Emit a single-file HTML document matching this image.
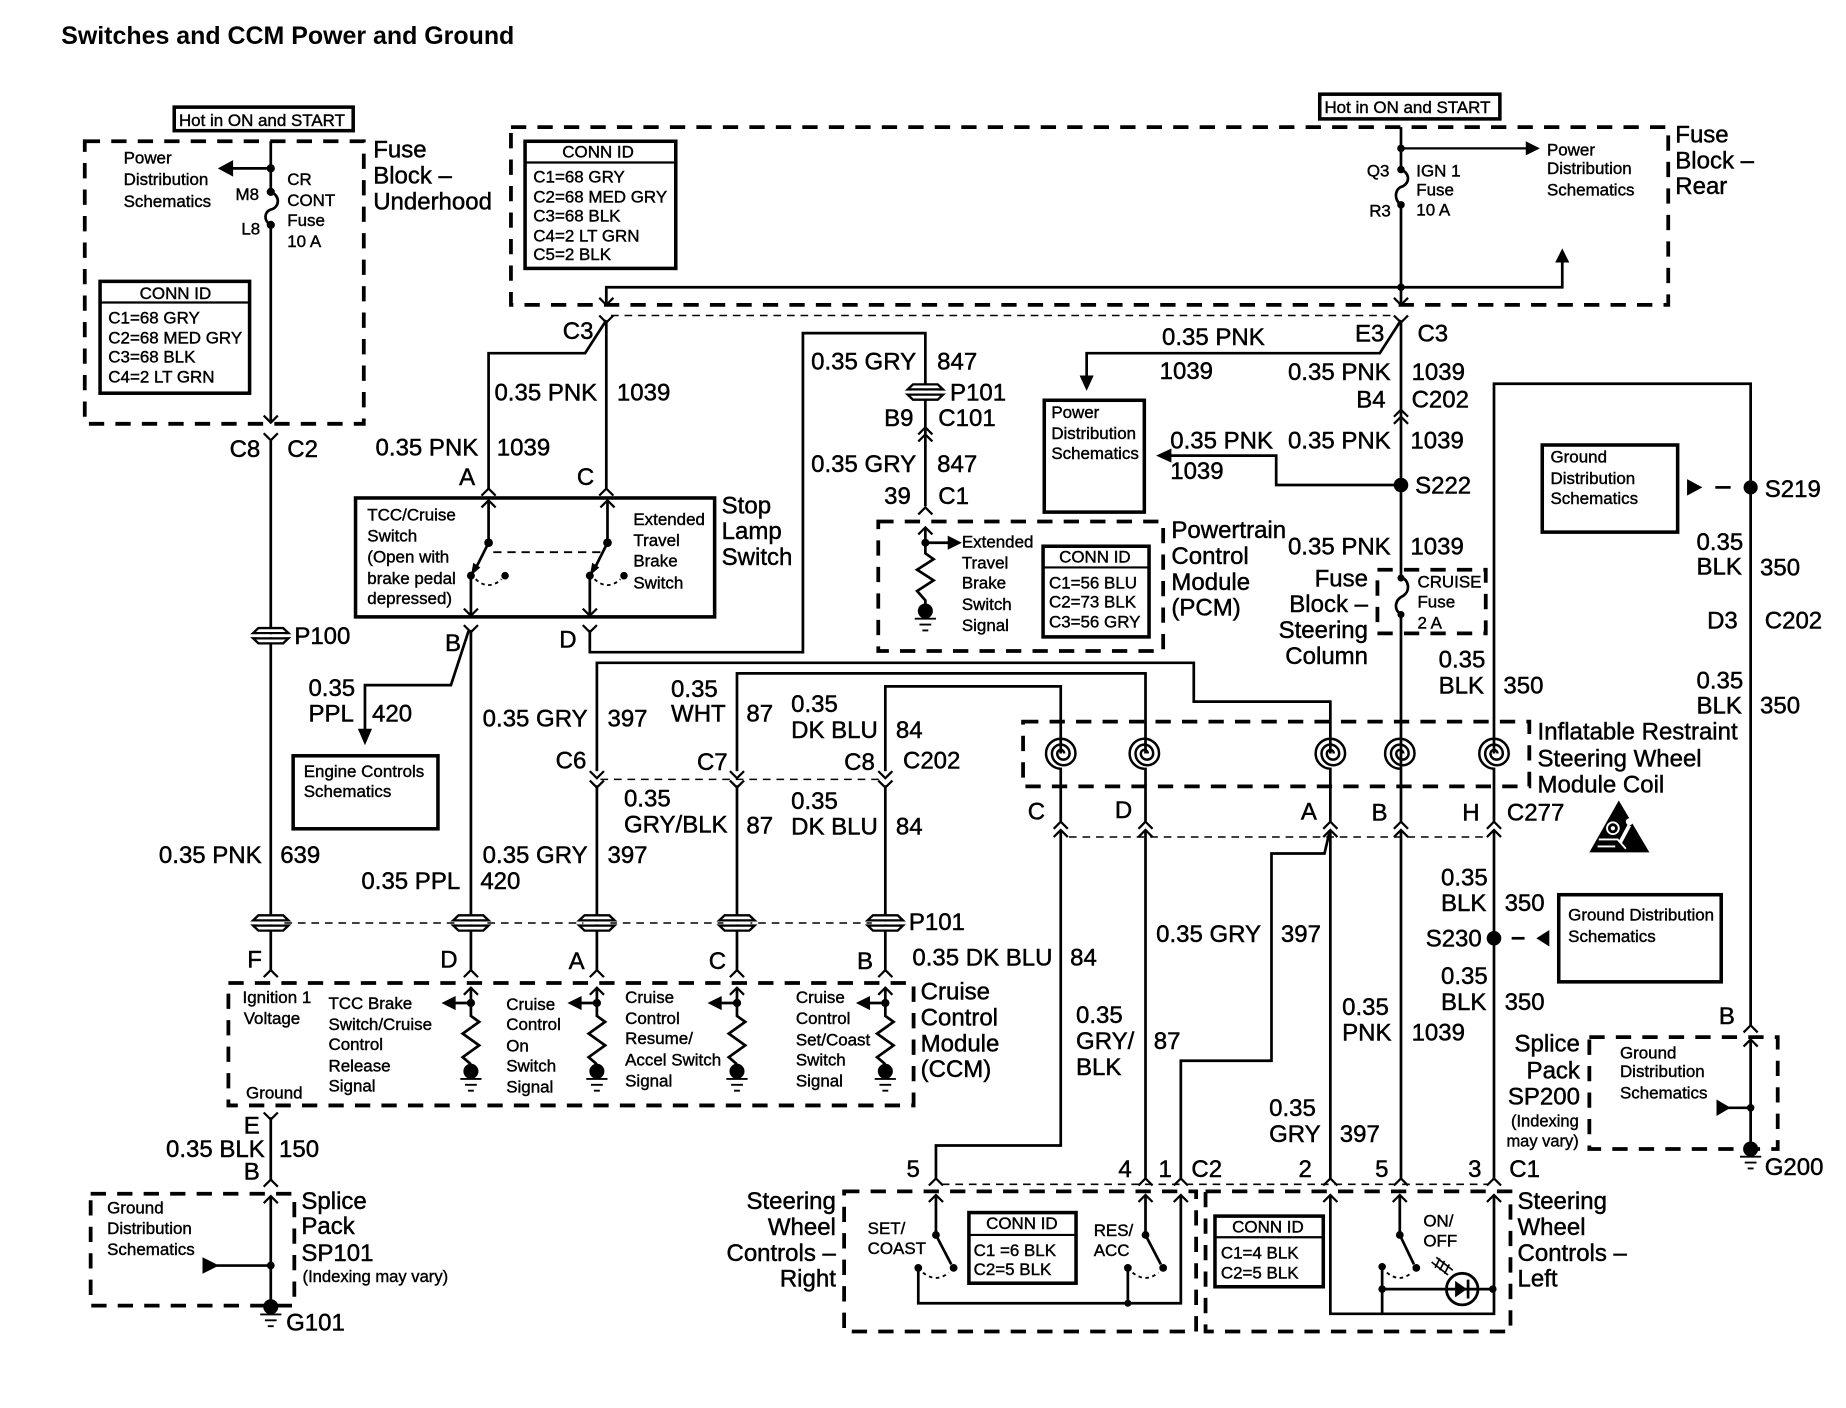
<!DOCTYPE html>
<html><head><meta charset="utf-8"><title>Switches and CCM Power and Ground</title>
<style>
html,body{margin:0;padding:0;background:#fff}
svg{display:block}
text{font-family:"Liberation Sans",sans-serif;font-size:20.4px;fill:#000;stroke:#000;stroke-width:.4}
.s text,text.s{font-size:14.4px;stroke-width:.35}
.e{text-anchor:end}.m{text-anchor:middle}
.w{fill:none;stroke:#000;stroke-width:2.3}
.d{fill:none;stroke:#000;stroke-width:3.2;stroke-dasharray:13 9.5}
.t{fill:none;stroke:#000;stroke-width:1.3;stroke-dasharray:6.5 5}
.b{fill:none;stroke:#000;stroke-width:3}
.a{fill:none;stroke:#000;stroke-width:1.9}
.o{fill:none;stroke:#000;stroke-width:1.6;stroke-dasharray:3 3}
</style></head><body>
<svg xmlns="http://www.w3.org/2000/svg" width="1846" height="1408" viewBox="0 0 1568 1196" preserveAspectRatio="none">
<defs>
<path id="u" class="a" d="M-6 6L0 0L6 6"/>
<path id="v" class="a" d="M-6 -6L0 0L6 -6"/>
<g id="p"><path d="M-10.5 -6.5H10.5L15 -2.2H-15Z M-15 2.2H15L10.5 6.5H-10.5Z" fill="#fff" stroke="#000" stroke-width="2"/><rect x="-11.5" y="-1.2" width="23" height="2.4" fill="#fff"/></g>
<g id="g"><circle cx="0" cy="0" r="6.4"/><path d="M-9 6.5H9M-5 11.5H5M-2.5 16.5H2.5" stroke="#000" stroke-width="1.6"/></g>
<g id="c"><path d="M2 0A3 3 0 0 0 -4 0A5 5 0 0 0 6.5 0A7.5 7.5 0 0 0 -8.5 0A10 10 0 0 0 11.5 0A12.5 12.5 0 0 0 -13.5 0A13 13 0 0 0 -1 13" fill="none" stroke="#000" stroke-width="2.1"/></g>
<g id="r">
<use href="#u" y="4"/>
<path class="w" d="M0 4V28L7 33L-7 43L7 53L-7 63L0 69"/>
<circle cx="0" cy="17" r="3.5"/>
<path class="w" d="M0 17H-14"/><path d="M-25 17L-13 11V23Z"/>
<use href="#g" y="75"/>
</g>
<g id="sw">
<circle cx="0" cy="0" r="3.7"/><circle cx="-15" cy="28" r="3.4"/>
<path class="w" d="M0 0L-12 24"/><path d="M-15 28L-13 17L-7 21Z"/>
</g>
</defs>

<text x="52" y="37.5" style="font-size:21.2px;font-weight:bold;stroke-width:0">Switches and CCM Power and Ground</text>

<!-- Underhood fuse block -->
<rect class="b" x="148" y="91" width="152" height="20"/>
<text class="s" x="152" y="107">Hot in ON and START</text>
<rect class="d" x="72" y="120" width="237" height="240"/>
<path class="w" d="M230 120V163C238 166 238 176 230 178C224 180 224 188 230 191V358"/>
<circle cx="230" cy="143" r="3.5"/><circle cx="230" cy="163" r="3.5"/><circle cx="230" cy="191" r="3.5"/>
<path class="w" d="M230 143H196"/><path d="M185 143L198 136V150Z"/>
<use href="#v" x="230" y="359"/>
<g class="s">
<text x="105" y="139">Power</text><text x="105" y="157">Distribution</text><text x="105" y="176">Schematics</text>
<text x="200" y="170">M8</text><text x="205" y="199">L8</text>
<text x="244" y="157">CR</text><text x="244" y="175">CONT</text><text x="244" y="192">Fuse</text><text x="244" y="210">10 A</text>
<text x="149" y="254" class="m">CONN ID</text>
<text x="92" y="275">C1=68 GRY</text><text x="92" y="292">C2=68 MED GRY</text><text x="92" y="308">C3=68 BLK</text><text x="92" y="325">C4=2 LT GRN</text>
</g>
<rect class="b" x="85" y="239" width="127" height="95"/><path class="a" d="M85 257H212"/>
<text x="317" y="134">Fuse</text><text x="317" y="156">Block –</text><text x="317" y="178">Underhood</text>
<use href="#v" x="230" y="374"/>
<path class="w" d="M230 374V824"/>
<text x="195" y="388">C8</text><text x="244" y="388">C2</text>
<use href="#p" x="230" y="540"/><text x="250" y="547">P100</text>
<text x="135" y="733">0.35 PNK</text><text x="238" y="733">639</text>

<!-- Rear fuse block -->
<rect class="d" x="434" y="108" width="983" height="151"/>
<rect class="b" x="1121" y="80" width="153" height="21"/>
<text class="s" x="1125" y="96">Hot in ON and START</text>
<rect class="b" x="446" y="120" width="128" height="108"/><path class="a" d="M446 138H574"/>
<g class="s">
<text x="508" y="134" class="m">CONN ID</text>
<text x="453" y="155">C1=68 GRY</text><text x="453" y="172">C2=68 MED GRY</text><text x="453" y="188">C3=68 BLK</text><text x="453" y="205">C4=2 LT GRN</text><text x="453" y="221">C5=2 BLK</text>
<text x="1161" y="150">Q3</text><text x="1163" y="184">R3</text>
<text x="1203" y="150">IGN 1</text><text x="1203" y="166">Fuse</text><text x="1203" y="183">10 A</text>
<text x="1314" y="132">Power</text><text x="1314" y="148">Distribution</text><text x="1314" y="166">Schematics</text>
</g>
<text x="1423" y="121">Fuse</text><text x="1423" y="143">Block –</text><text x="1423" y="165">Rear</text>
<path class="w" d="M1190 108V144C1197 147 1198 154 1192 158C1184 160 1184 170 1190 174V259"/>
<circle cx="1190" cy="126" r="3.2"/><circle cx="1190" cy="144" r="3.2"/><circle cx="1190" cy="174" r="3.2"/><circle cx="1190" cy="244" r="3.2"/>
<path class="a" d="M1190 126H1298"/><path d="M1308 126L1296 120V132Z"/>
<path class="w" d="M515 258V244H1327V222"/><path d="M1327 211L1321 223H1333Z"/>
<use href="#v" x="515" y="259"/><use href="#v" x="1190" y="259"/>
<path class="t" d="M519 268H1186"/>

<!-- C3 left -->
<use href="#v" x="515" y="274"/>
<path class="w" d="M515 272V416"/>
<path class="w" d="M515 272L497 300H415V416"/>
<use href="#u" x="415" y="415"/><use href="#u" x="515" y="415"/>
<text x="478" y="288">C3</text>
<text x="420" y="340">0.35 PNK</text><text x="524" y="340">1039</text>
<text x="319" y="387">0.35 PNK</text><text x="422" y="387">1039</text>
<text x="390" y="412">A</text><text x="490" y="412">C</text>

<!-- Stop lamp switch -->
<rect class="b" x="302" y="423" width="305" height="101"/>
<text x="613" y="436">Stop</text><text x="613" y="458">Lamp</text><text x="613" y="480">Switch</text>
<g class="s">
<text x="312" y="442">TCC/Cruise</text><text x="312" y="460">Switch</text><text x="312" y="478">(Open with</text><text x="312" y="496">brake pedal</text><text x="312" y="513">depressed)</text>
<text x="538" y="446">Extended</text><text x="538" y="464">Travel</text><text x="538" y="481">Brake</text><text x="538" y="500">Switch</text>
</g>
<path class="w" d="M415 425V461M516 425V461M400 489V522M501 489V522"/>
<use href="#u" x="415" y="425"/><use href="#u" x="516" y="425"/>
<use href="#v" x="400" y="523"/><use href="#v" x="501" y="523"/>
<use href="#sw" x="415" y="461"/><use href="#sw" x="516" y="461"/>
<circle cx="429" cy="489" r="3.2"/><circle cx="530" cy="489" r="3.2"/>
<path class="o" d="M404 492Q415 502 426 492M505 492Q516 502 527 492"/>
<path class="w" style="stroke-width:1.6;stroke-dasharray:7 5" d="M419 469H514"/>

<use href="#v" x="400" y="537"/><use href="#v" x="501" y="537"/>
<path class="w" d="M400 535V824"/>
<path class="w" d="M398 536L383 582H310V622"/><path d="M310 633L304 619H316Z"/>
<path class="w" d="M501 535V554H682V283H786V430"/>
<text x="378" y="553">B</text><text x="475" y="550">D</text>
<text x="262" y="591">0.35</text><text x="262" y="613">PPL</text><text x="316" y="613">420</text>
<rect class="b" x="249" y="642" width="123" height="62"/>
<g class="s"><text x="258" y="660">Engine Controls</text><text x="258" y="677">Schematics</text></g>
<text x="307" y="755">0.35 PPL</text><text x="408" y="755">420</text>

<!-- 847 -->
<use href="#p" x="786" y="333"/>
<use href="#u" x="786" y="363"/><use href="#u" x="786" y="369"/>
<use href="#u" x="786" y="431"/>
<text x="689" y="314">0.35 GRY</text><text x="796" y="314">847</text>
<text x="807" y="340">P101</text><text x="751" y="362">B9</text><text x="797" y="362">C101</text>
<text x="689" y="401">0.35 GRY</text><text x="796" y="401">847</text>
<text x="751" y="428">39</text><text x="797" y="428">C1</text>

<!-- PCM -->
<rect class="d" x="746" y="443" width="242" height="110"/>
<use href="#u" x="786" y="448"/>
<path class="w" d="M786 448V470L793 475L779 484L793 493L779 502L786 510V519"/>
<circle cx="786" cy="461" r="3.4"/><path class="w" d="M786 461H806"/><path d="M817 461L805 455V467Z"/>
<use href="#g" x="786" y="519"/>
<g class="s"><text x="817" y="465">Extended</text><text x="817" y="483">Travel</text><text x="817" y="500">Brake</text><text x="817" y="518">Switch</text><text x="817" y="536">Signal</text>
<text x="930" y="478" class="m">CONN ID</text><text x="891" y="500">C1=56 BLU</text><text x="891" y="516">C2=73 BLK</text><text x="891" y="533">C3=56 GRY</text></g>
<rect class="b" x="886" y="464" width="90" height="77"/><path class="a" d="M886 482H976"/>
<text x="995" y="457">Powertrain</text><text x="995" y="479">Control</text><text x="995" y="501">Module</text><text x="995" y="523">(PCM)</text>

<!-- power dist center -->
<rect class="b" x="887" y="340" width="85" height="95"/>
<g class="s"><text x="893" y="355">Power</text><text x="893" y="373">Distribution</text><text x="893" y="390">Schematics</text></g>
<use href="#v" x="1190" y="274"/>
<path class="w" d="M1190 272L1172 300H923V321"/><path d="M923 332L917 319H929Z"/>
<path class="w" d="M1190 272V490C1197 493 1198 502 1192 506C1184 510 1184 518 1190 522V698M1190 706V1002"/>
<use href="#u" x="1190" y="348"/><use href="#u" x="1190" y="354"/>
<path class="w" d="M993 387H1084V412H1190"/><path d="M982 387L995 381V393Z"/>
<circle cx="1190" cy="412" r="6.2"/>
<text x="987" y="293">0.35 PNK</text><text x="985" y="322">1039</text>
<text x="1151" y="290">E3</text><text x="1204" y="290">C3</text>
<text x="1094" y="323">0.35 PNK</text><text x="1199" y="323">1039</text>
<text x="1152" y="346">B4</text><text x="1199" y="346">C202</text>
<text x="994" y="381">0.35 PNK</text><text x="994" y="407">1039</text>
<text x="1094" y="381">0.35 PNK</text><text x="1198" y="381">1039</text>
<text x="1202" y="419">S222</text>
<text x="1094" y="471">0.35 PNK</text><text x="1198" y="471">1039</text>

<!-- Steering column fuse -->
<rect class="d" x="1170" y="484" width="92" height="54"/>
<circle cx="1190" cy="491" r="3"/><circle cx="1190" cy="522" r="3"/>
<g class="s"><text x="1204" y="499">CRUISE</text><text x="1204" y="516">Fuse</text><text x="1204" y="534">2 A</text></g>
<text class="e" x="1162" y="498">Fuse</text><text class="e" x="1162" y="520">Block –</text><text class="e" x="1162" y="542">Steering</text><text class="e" x="1162" y="564">Column</text>

<!-- Right wire -->
<path class="w" d="M1269 640V326H1487V872M1269 652V698"/>
<rect class="b" x="1310" y="378" width="115" height="74"/>
<g class="s"><text x="1317" y="393">Ground</text><text x="1317" y="411">Distribution</text><text x="1317" y="428">Schematics</text></g>
<path d="M1446 414L1433 407V421Z"/><path class="w" d="M1457 414H1470"/>
<circle cx="1487" cy="414" r="6"/>
<text x="1499" y="422">S219</text>
<text x="1441" y="467">0.35</text><text x="1441" y="488">BLK</text><text x="1495" y="489">350</text>
<text x="1450" y="534">D3</text><text x="1499" y="534">C202</text>
<text x="1441" y="585">0.35</text><text x="1441" y="606">BLK</text><text x="1495" y="606">350</text>
<text x="1222" y="567">0.35</text><text x="1222" y="589">BLK</text><text x="1277" y="589">350</text>

<!-- C202 lower bundle -->
<path class="w" d="M507 655V563H1014V596H1130V640M1130 652V698"/>
<path class="w" d="M626 655V572H973V640M973 652V698"/>
<path class="w" d="M752 655V583H901V640M901 652V698"/>
<use href="#v" x="507" y="661"/><use href="#v" x="626" y="661"/><use href="#v" x="752" y="661"/>
<use href="#v" x="507" y="669"/><use href="#v" x="626" y="669"/><use href="#v" x="752" y="669"/>
<path class="t" d="M510 662H750"/>
<path class="w" d="M507 667V824M626 667V824M752 667V824"/>
<text x="410" y="617">0.35 GRY</text><text x="516" y="617">397</text>
<text x="570" y="592">0.35</text><text x="570" y="613">WHT</text><text x="634" y="613">87</text>
<text x="672" y="605">0.35</text><text x="672" y="627">DK BLU</text><text x="761" y="627">84</text>
<text x="472" y="653">C6</text><text x="592" y="654">C7</text><text x="717" y="654">C8</text><text x="767" y="653">C202</text>
<text x="530" y="685">0.35</text><text x="530" y="707">GRY/BLK</text><text x="634" y="708">87</text>
<text x="672" y="687">0.35</text><text x="672" y="709">DK BLU</text><text x="761" y="709">84</text>
<text x="410" y="733">0.35 GRY</text><text x="516" y="733">397</text>

<!-- P101 row -->
<path class="t" d="M230 784H752"/>
<use href="#p" x="230" y="784"/><use href="#p" x="400" y="784"/><use href="#p" x="507" y="784"/><use href="#p" x="626" y="784"/><use href="#p" x="752" y="784"/>
<text x="772" y="790">P101</text>

<!-- Coil module -->
<rect class="d" x="869" y="613" width="430" height="55"/>
<use href="#c" x="902" y="640"/><use href="#c" x="973" y="640"/><use href="#c" x="1131" y="640"/><use href="#c" x="1190" y="640"/><use href="#c" x="1270" y="640"/>
<text x="1306" y="628">Inflatable Restraint</text><text x="1306" y="651">Steering Wheel</text><text x="1306" y="673">Module Coil</text>
<path d="M1375 680L1401 724H1350Z"/>
<circle cx="1370" cy="703.5" r="5" fill="none" stroke="#fff" stroke-width="1.6"/><circle cx="1370" cy="703.5" r="1.8" fill="#fff"/>
<circle cx="1384" cy="698" r="3" fill="#fff"/>
<path d="M1384 701L1376 716" stroke="#fff" stroke-width="3.2" fill="none"/>
<path d="M1358 713H1374L1381 721M1357 719H1372" stroke="#fff" stroke-width="1.6" fill="none"/>
<text x="873" y="696">C</text><text x="947" y="695">D</text><text x="1105" y="696">A</text><text x="1165" y="697">B</text><text x="1242" y="697">H</text><text x="1280" y="697">C277</text>
<use href="#u" x="901" y="698"/><use href="#u" x="901" y="705"/>
<use href="#u" x="973" y="698"/><use href="#u" x="973" y="705"/>
<use href="#u" x="1130" y="698"/><use href="#u" x="1130" y="705"/>
<use href="#u" x="1190" y="698"/><use href="#u" x="1190" y="705"/>
<use href="#u" x="1269" y="698"/><use href="#u" x="1269" y="705"/>
<path class="t" d="M908 711H1263"/>
<path class="w" d="M901 706V973H795V1002"/>
<path class="w" d="M973 706V1002"/>
<path class="w" d="M1130 706V1002"/>
<path class="w" d="M1269 706V1002"/>
<path class="w" d="M1129 708L1125 725H1080V901H1003V1002"/>
<text x="775" y="820">0.35 DK BLU</text><text x="909" y="820">84</text>
<text x="982" y="800">0.35 GRY</text><text x="1088" y="800">397</text>
<text x="914" y="869">0.35</text><text x="914" y="891">GRY/</text><text x="914" y="913">BLK</text><text x="980" y="891">87</text>
<text x="1140" y="862">0.35</text><text x="1140" y="884">PNK</text><text x="1199" y="884">1039</text>
<text x="1078" y="948">0.35</text><text x="1078" y="970">GRY</text><text x="1138" y="970">397</text>
<text x="1224" y="752">0.35</text><text x="1224" y="774">BLK</text><text x="1278" y="774">350</text>
<text x="1211" y="804">S230</text><circle cx="1269" cy="797" r="6.2"/>
<path class="w" d="M1284 797H1295"/><path d="M1305 797L1316 790V804Z"/>
<rect class="b" x="1324" y="760" width="138" height="74"/>
<g class="s"><text x="1332" y="782">Ground Distribution</text><text x="1332" y="800">Schematics</text></g>
<text x="1224" y="836">0.35</text><text x="1224" y="858">BLK</text><text x="1278" y="858">350</text>

<!-- CCM -->
<rect class="d" x="194" y="835" width="582" height="104"/>
<use href="#u" x="230" y="824"/><use href="#u" x="400" y="824"/><use href="#u" x="507" y="824"/><use href="#u" x="626" y="824"/><use href="#u" x="752" y="824"/>
<text x="210" y="822">F</text><text x="374" y="822">D</text><text x="483" y="823">A</text><text x="602" y="823">C</text><text x="728" y="823">B</text>
<use href="#r" x="400" y="835"/><use href="#r" x="507" y="835"/><use href="#r" x="626" y="835"/><use href="#r" x="752" y="835"/>
<g class="s">
<text x="206" y="852">Ignition 1</text><text x="207" y="870">Voltage</text><text x="209" y="933">Ground</text>
<text x="279" y="857">TCC Brake</text><text x="279" y="875">Switch/Cruise</text><text x="279" y="892">Control</text><text x="279" y="910">Release</text><text x="279" y="927">Signal</text>
<text x="430" y="858">Cruise</text><text x="430" y="875">Control</text><text x="430" y="893">On</text><text x="430" y="910">Switch</text><text x="430" y="928">Signal</text>
<text x="531" y="852">Cruise</text><text x="531" y="870">Control</text><text x="531" y="887">Resume/</text><text x="531" y="905">Accel Switch</text><text x="531" y="923">Signal</text>
<text x="676" y="852">Cruise</text><text x="676" y="870">Control</text><text x="676" y="888">Set/Coast</text><text x="676" y="905">Switch</text><text x="676" y="923">Signal</text>
</g>
<text x="782" y="849">Cruise</text><text x="782" y="871">Control</text><text x="782" y="893">Module</text><text x="782" y="915">(CCM)</text>

<!-- SP101 -->
<use href="#v" x="230" y="951"/>
<path class="w" d="M230 949V1002M230 1017V1110"/>
<text x="207" y="963">E</text><text x="141" y="983">0.35 BLK</text><text x="237" y="983">150</text><text x="207" y="1002">B</text>
<use href="#u" x="230" y="1002"/>
<rect class="d" x="77" y="1014" width="173" height="95"/>
<use href="#u" x="230" y="1016"/>
<circle cx="230" cy="1075" r="3.3"/><path class="w" d="M184 1075H230"/><path d="M186 1075L172 1068V1082Z"/>
<use href="#g" x="230" y="1110"/>
<g class="s"><text x="91" y="1031">Ground</text><text x="91" y="1048">Distribution</text><text x="91" y="1066">Schematics</text>
<text x="257" y="1089" style="font-size:14.1px">(Indexing may vary)</text></g>
<text x="256" y="1027">Splice</text><text x="256" y="1048">Pack</text><text x="256" y="1071">SP101</text>
<text x="243" y="1130">G101</text>

<!-- SP200 -->
<text x="1460" y="870">B</text>
<use href="#u" x="1487" y="871"/>
<rect class="d" x="1350" y="881" width="160" height="95"/>
<use href="#u" x="1487" y="883"/>
<path class="w" d="M1487 883V976"/><circle cx="1487" cy="941" r="3.2"/><path class="w" d="M1468 941H1487"/><path d="M1470 941L1458 934V948Z"/>
<use href="#g" x="1487" y="976"/>
<text x="1499" y="998">G200</text>
<g class="s"><text x="1376" y="899">Ground</text><text x="1376" y="915">Distribution</text><text x="1376" y="933">Schematics</text>
<text class="e" x="1341" y="957" style="font-size:14px">(Indexing</text><text class="e" x="1341" y="974" style="font-size:14px">may vary)</text></g>
<text class="e" x="1342" y="893">Splice</text><text class="e" x="1342" y="916">Pack</text><text class="e" x="1342" y="938">SP200</text>

<!-- Steering wheel controls -->
<text x="770" y="1000">5</text><text x="950" y="1000">4</text><text x="984" y="1000">1</text><text x="1012" y="1000">C2</text>
<text x="1103" y="1000">2</text><text x="1168" y="1000">5</text><text x="1247" y="1000">3</text><text x="1282" y="1000">C1</text>
<path class="t" d="M800 1006H1264"/>
<use href="#u" x="795" y="1001"/><use href="#u" x="973" y="1001"/><use href="#u" x="1003" y="1001"/><use href="#u" x="1130" y="1001"/><use href="#u" x="1190" y="1001"/><use href="#u" x="1269" y="1001"/>
<rect class="d" x="717" y="1012" width="299" height="119"/>
<rect class="d" x="1024" y="1012" width="259" height="119"/>
<use href="#u" x="795" y="1015"/><use href="#u" x="973" y="1015"/><use href="#u" x="1003" y="1015"/><use href="#u" x="1130" y="1015"/><use href="#u" x="1189" y="1015"/><use href="#u" x="1269" y="1015"/>
<path class="w" d="M795 1015V1049M973 1015V1049M1189 1015V1049"/>
<path class="w" d="M780 1077V1107H1003V1015M958 1077V1107"/>
<circle cx="958" cy="1107" r="3"/>
<circle cx="795" cy="1049" r="3.3"/><circle cx="810" cy="1077" r="3.3"/><circle cx="780" cy="1077" r="3.3"/>
<circle cx="973" cy="1049" r="3.3"/><circle cx="988" cy="1077" r="3.3"/><circle cx="958" cy="1077" r="3.3"/>
<path class="w" d="M795 1049L808 1074M973 1049L986 1074"/>
<path class="o" d="M784 1081Q795 1090 806 1081M962 1081Q973 1090 984 1081"/>
<g class="s"><text x="737" y="1048">SET/</text><text x="737" y="1065">COAST</text><text x="929" y="1050">RES/</text><text x="929" y="1067">ACC</text>
<text x="868" y="1044" class="m">CONN ID</text><text x="827" y="1067">C1 =6 BLK</text><text x="827" y="1083">C2=5 BLK</text>
<text x="1077" y="1047" class="m">CONN ID</text><text x="1037" y="1069">C1=4 BLK</text><text x="1037" y="1086">C2=5 BLK</text>
<text x="1209" y="1042">ON/</text><text x="1209" y="1059">OFF</text></g>
<rect class="b" x="823" y="1030" width="91" height="60"/><path class="a" d="M823 1049H914"/>
<rect class="b" x="1032" y="1033" width="92" height="60"/><path class="a" d="M1032 1051H1124"/>
<text class="e" x="710" y="1027">Steering</text><text class="e" x="710" y="1049">Wheel</text><text class="e" x="710" y="1071">Controls –</text><text class="e" x="710" y="1093">Right</text>
<text x="1289" y="1027">Steering</text><text x="1289" y="1049">Wheel</text><text x="1289" y="1071">Controls –</text><text x="1289" y="1093">Left</text>
<path class="w" d="M1130 1015V1116H1269V1015M1174 1076V1116M1174 1095H1228M1255 1095H1269"/>
<circle cx="1189" cy="1049" r="3.3"/><circle cx="1203" cy="1077" r="3.3"/><circle cx="1174" cy="1076" r="3.2"/><circle cx="1174" cy="1095" r="3.2"/><circle cx="1268" cy="1095" r="3.2"/>
<path class="w" d="M1189 1049L1201 1074"/>
<path class="o" d="M1178 1081Q1189 1090 1199 1081"/>
<circle cx="1242" cy="1095" r="13.4" fill="#fff" stroke="#000" stroke-width="2.4"/>
<path d="M1236 1088V1102L1246 1095Z"/><path class="w" d="M1228 1095H1255M1247 1087V1103"/>
<path class="a" style="stroke-width:1.4" d="M1216 1072L1230 1083M1220 1068L1234 1079M1219 1077L1223 1069M1223 1079L1227 1071M1227 1082L1231 1074"/>
</svg>
</body></html>
